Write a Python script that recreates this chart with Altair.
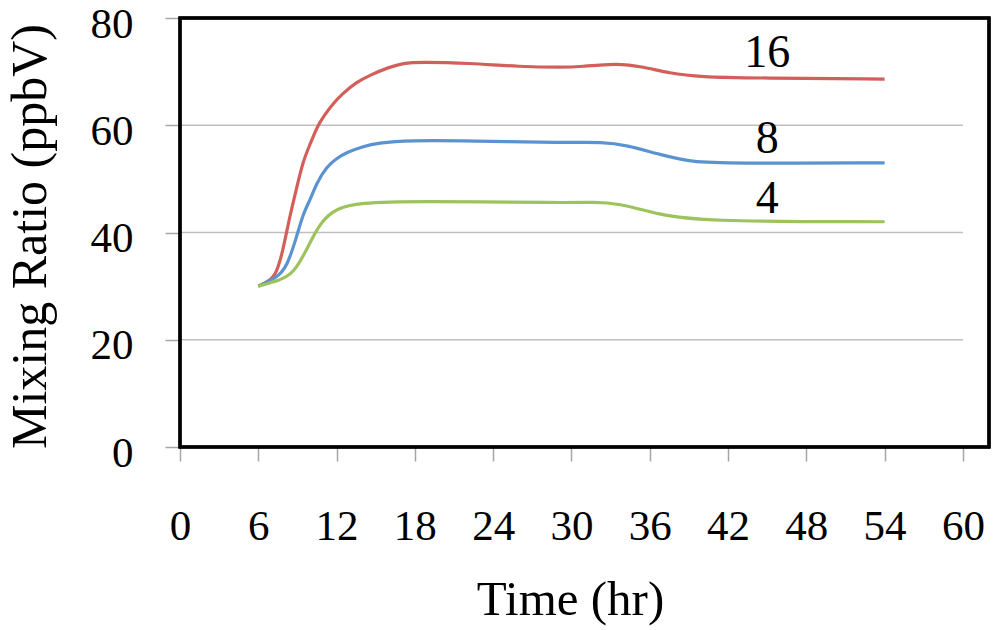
import altair as alt
import pandas as pd

# Series (time in hr, mixing ratio in ppbV)
t16 = [6, 6.9, 7.4, 7.9, 8.4, 8.9, 9.45, 10.0, 10.5, 11.0, 11.7, 12.5, 13.5, 14.6, 16.0, 17.1, 18.4, 22.2, 26, 29.5, 30.6, 33.5, 35.5, 37.5, 39.8, 44.4, 54]
v16 = [30, 31.0, 32.4, 36.7, 42.9, 47.9, 53.5, 56.6, 59.7, 61.6, 64.0, 66.0, 68.0, 69.4, 70.8, 71.6, 71.8, 71.6, 70.9, 70.8, 70.9, 71.6, 70.9, 69.7, 69.0, 68.8, 68.6]

t8 = [6, 7.4, 8.2, 8.94, 9.45, 9.96, 10.47, 11.24, 12.0, 12.8, 14.0, 15.1, 17.6, 22.2, 29.5, 32.4, 34.2, 36.8, 39.3, 41.9, 54]
v8 = [30, 31.5, 33.6, 39.2, 43.6, 46.0, 49.2, 52.3, 53.8, 55.0, 56.0, 56.7, 57.2, 57.1, 56.7, 56.9, 56.3, 54.5, 53.1, 52.9, 53.0]

t4 = [6, 7.7, 8.7, 9.7, 10.7, 12.0, 13.8, 17.6, 29.9, 31.7, 33.5, 36.8, 39.8, 54]
v4 = [30, 31.1, 32.4, 36.7, 41.8, 44.6, 45.5, 45.9, 45.5, 45.7, 45.5, 43.3, 42.1, 42.0]

series_names = ["16", "8", "4"]
series_colors = ["#D35F5B", "#5B93D1", "#9DC35C"]
label_x = [45, 45, 45]
label_y = [73.4, 57.4, 46.2]

x_ticks = [0, 6, 12, 18, 24, 30, 36, 42, 48, 54, 60]
y_ticks = [0, 20, 40, 60, 80]
grid_y = [20, 40, 60]

rows = []
for name, ts, vs in zip(series_names, [t16, t8, t4], [v16, v8, v4]):
    for t, v in zip(ts, vs):
        rows.append({"series": name, "time": t, "value": v})
df = pd.DataFrame(rows)

labels_df = pd.DataFrame({"series": series_names, "x": label_x, "y": label_y})
grid_df = pd.DataFrame({"y": grid_y, "x": [0] * len(grid_y), "x2": [60] * len(grid_y)})

FONT = "Liberation Serif, Times New Roman, serif"
xscale = alt.Scale(domain=[0, 62], nice=False, zero=False)
yscale = alt.Scale(domain=[0, 80], nice=False)

W, H = 809, 429

grid = alt.Chart(grid_df).mark_rule(color="#BFBFBF", strokeWidth=1.5).encode(
    x=alt.X("x:Q", scale=xscale),
    x2="x2:Q",
    y=alt.Y("y:Q", scale=yscale),
)

lines = alt.Chart(df).mark_line(strokeWidth=3.2, interpolate="basis").encode(
    x=alt.X(
        "time:Q",
        scale=xscale,
        axis=alt.Axis(
            title="Time (hr)",
            values=x_ticks,
            grid=False,
            domain=False,
            tickColor="#A6A6A6",
            tickSize=14,
            tickWidth=1.5,
            labelPadding=44,
            labelFlush=False,
            labelFont=FONT,
            labelFontSize=43,
            labelColor="black",
            titleFont=FONT,
            titleFontSize=49,
            titleFontWeight="normal",
            titleColor="black",
            titleX=390,
            titleY=167,
            titleBaseline="alphabetic",
            titleAlign="center",
        ),
    ),
    y=alt.Y(
        "value:Q",
        scale=yscale,
        axis=alt.Axis(
            title="Mixing Ratio (ppbV)",
            values=y_ticks,
            grid=False,
            domain=False,
            tickColor="#A6A6A6",
            tickSize=15,
            tickWidth=1.5,
            labelPadding=32,
            labelFlush=False,
            labelBaseline="alphabetic",
            labelOffset=19,
            labelFont=FONT,
            labelFontSize=43,
            labelColor="black",
            titleFont=FONT,
            titleFontSize=50,
            titleFontWeight="normal",
            titleColor="black",
            titleX=-135,
            titleY=218,
            titleBaseline="alphabetic",
            titleAlign="center",
            titleAngle=270,
        ),
    ),
    color=alt.Color(
        "series:N",
        scale=alt.Scale(domain=series_names, range=series_colors),
        legend=None,
    ),
)

texts = alt.Chart(labels_df).mark_text(font=FONT, fontSize=46, color="black").encode(
    x=alt.X("x:Q", scale=xscale),
    y=alt.Y("y:Q", scale=yscale),
    text="series:N",
)

border = alt.Chart(labels_df).mark_rect(
    fill=None, filled=False, stroke="black", strokeWidth=3
).encode(
    x=alt.value(0), x2=alt.value(W), y=alt.value(0), y2=alt.value(H)
)

chart = (
    alt.layer(grid, lines, texts, border)
    .properties(
        width=W,
        height=H,
        autosize=alt.AutoSizeParams(type="none"),
        padding={"left": 172, "top": 10, "right": 3, "bottom": 182},
    )
    .configure_view(stroke=None)
    .configure(background="white")
)

chart.save("out.html", embed_options={"renderer": "svg", "actions": False})
